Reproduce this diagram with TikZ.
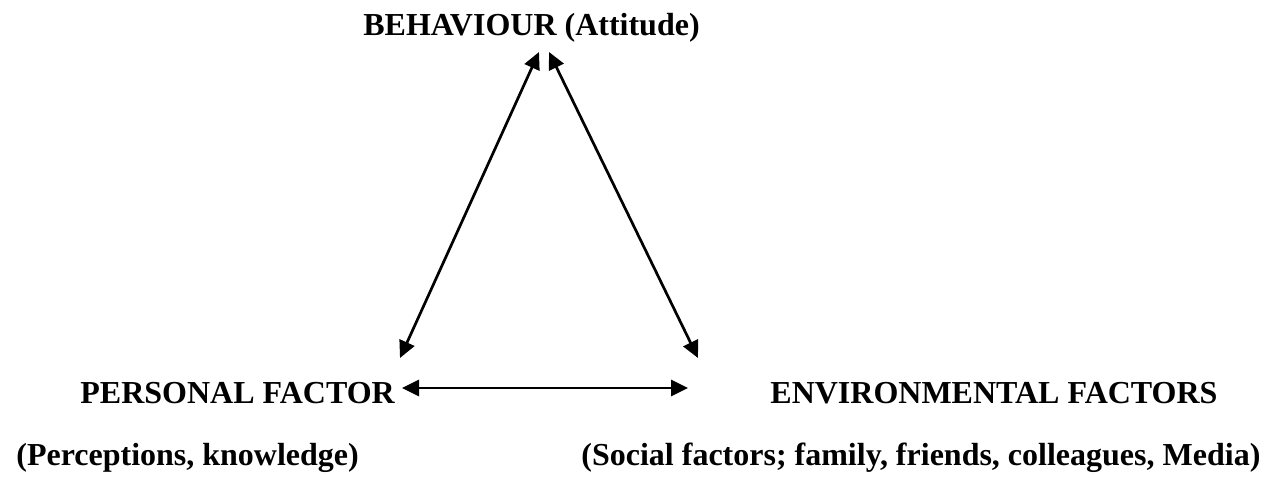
\documentclass[tikz,border=0pt]{standalone}
\usepackage{fontspec}
\setmainfont{Liberation Serif}
\usepackage{tikz}
\usetikzlibrary{arrows.meta}

\begin{document}
\begin{tikzpicture}[x=0.5pt,y=-0.5pt,
  label/.style={inner sep=0pt,anchor=base west,font=\fontsize{16}{18}\selectfont\bfseries},
  link/.style={line width=1.35pt,{Triangle[length=8.5pt,width=8pt]}-{Triangle[length=8.5pt,width=8pt]}}]

\useasboundingbox (0,0) rectangle (1270,482);

% factor labels
\node[label] (behav) at (363,35) {BEHAVIOUR (Attitude)};
\node[label] (personal) at (80,403) {PERSONAL FACTOR};
\node[label] (envir) at (770,403) {ENVIRONMENTAL FACTORS};
\node[label] (perc) at (16,465) {(Perceptions, knowledge)};
\node[label] (social) at (581,465) {(Social factors; family, friends, colleagues, Media)};

% arrow ends
\coordinate (behavL) at (539,52);
\coordinate (behavR) at (549,52);
\coordinate (personalT) at (400,358);
\coordinate (envirT) at (698,358);
\coordinate (personalE) at (402,388);
\coordinate (envirW) at (688,388);

% reciprocal links
\draw[link] (personalT) -- (behavL);
\draw[link] (behavR) -- (envirT);
\draw[link] (personalE) -- (envirW);

\end{tikzpicture}
\end{document}
